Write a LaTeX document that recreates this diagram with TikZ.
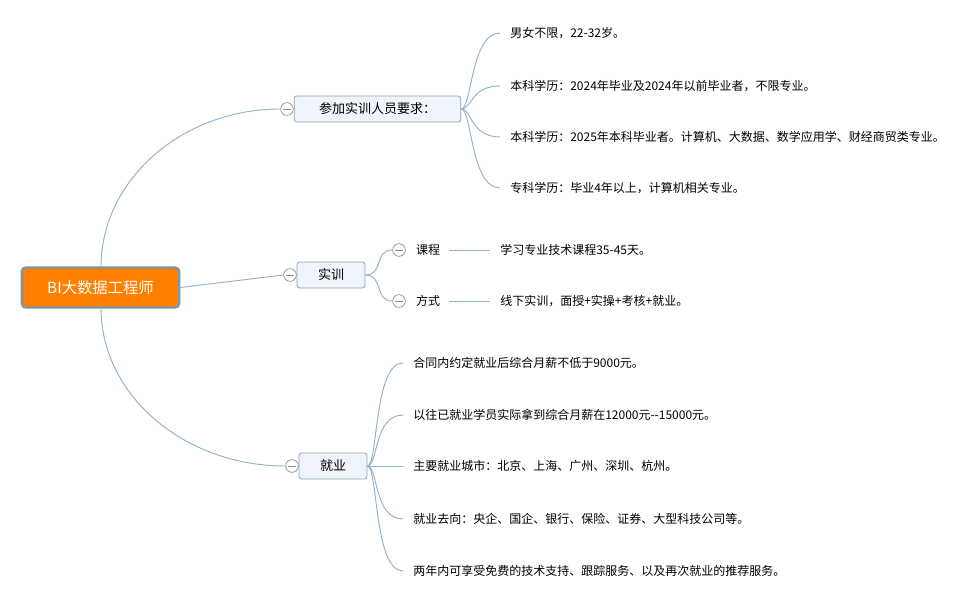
\documentclass[tikz,border=0pt]{standalone}
\usepackage{fontspec}
\setmainfont{Noto Sans CJK SC}
\definecolor{linec}{HTML}{93B1C6}
\definecolor{nodeb}{HTML}{8AA5BE}
\definecolor{nodef}{HTML}{EEF4F9}
\definecolor{rootb}{HTML}{7D93A8}
\definecolor{rootf}{HTML}{FF8000}
\definecolor{foldc}{HTML}{8C8C8C}
\begin{document}
\begin{tikzpicture}[x=0.75pt,y=-0.75pt,
  conn/.style={draw=linec, line width=0.7pt},
  topic/.style={draw=nodeb, fill=nodef, rounded corners=2pt, line width=0.6pt,
    minimum height=19.5pt, minimum width=51pt, inner sep=0pt,
    font=\fontsize{9.75}{12}\selectfont},
  rootnode/.style={draw=rootb, fill=rootf, rounded corners=3pt, line width=1.8pt,
    minimum height=30pt, minimum width=118pt, inner sep=0pt, text=white,
    font=\fontsize{11.5}{14}\selectfont},
  leaf/.style={anchor=west, inner xsep=7.5pt, inner ysep=0pt, font=\fontsize{9}{11}\selectfont},
  sub/.style={inner xsep=6.75pt, inner ysep=0pt, font=\fontsize{9}{11}\selectfont},
  fold/.style={circle, draw=foldc, fill=white, line width=0.5pt, minimum size=9.5pt, inner sep=0pt,
    path picture={\draw[foldc, line width=0.5pt] ([xshift=-2.8pt]path picture bounding box.center) -- ([xshift=2.8pt]path picture bounding box.center);}}
]
\useasboundingbox (0,0) rectangle (977,602);
\fill[white] (0,0) rectangle (977,602);

% root
\node[rootnode] (root) at (100.5,287.5) {BI大数据工程师};

% level 1
\node[topic, minimum width=125pt] (req) at (377.5,109) {参加实训人员要求：};
\node[fold] (freq) at (287,109) {};
\node[topic] (sx) at (331,275) {实训};
\node[fold] (fsx) at (290,275) {};
\node[topic] (jy) at (333,466) {就业};
\node[fold] (fjy) at (292,466) {};

\coordinate (rt) at (101,267);
\coordinate (rb) at (101,308);
\draw[conn] (rt) .. controls (101,180) and (182,109) .. (freq.west);
\draw[conn] (root.east) -- (fsx.west);
\draw[conn] (rb) .. controls (101,395) and (184,466) .. (fjy.west);

% requirements leaves
\node[leaf] (r1) at (500,33) {男女不限，22-32岁。};
\node[leaf] (r2) at (500,86) {本科学历：2024年毕业及2024年以前毕业者，不限专业。};
\node[leaf] (r3) at (500,137) {本科学历：2025年本科毕业者。计算机、大数据、数学应用学、财经商贸类专业。};
\node[leaf] (r4) at (500,188) {专科学历：毕业4年以上，计算机相关专业。};
\foreach \n in {r1,r2,r3,r4}{
  \draw[conn] (req.east) .. controls ([xshift=8]req.east) and ([xshift=-22]\n.west) .. (\n.west);
}

% training subtopics
\node[fold] (fkc) at (399,250) {};
\node[sub] (kc) at (428,250) {课程};
\node[fold] (ffs) at (399,301) {};
\node[sub] (fs) at (428,301) {方式};
\draw[conn] (sx.east) .. controls ([xshift=14]sx.east) and ([xshift=-14]fkc.west) .. (fkc.west);
\draw[conn] (sx.east) .. controls ([xshift=14]sx.east) and ([xshift=-14]ffs.west) .. (ffs.west);
\node[leaf] (kc1) at (490,250) {学习专业技术课程35-45天。};
\node[leaf] (fs1) at (490,301) {线下实训，面授+实操+考核+就业。};
\draw[conn] (kc.east) -- (kc1.west);
\draw[conn] (fs.east) -- (fs1.west);

% employment leaves
\node[leaf] (j1) at (403,363) {合同内约定就业后综合月薪不低于9000元。};
\node[leaf] (j2) at (403,415) {以往已就业学员实际拿到综合月薪在12000元{-}{-}15000元。};
\node[leaf] (j3) at (403,466) {主要就业城市：北京、上海、广州、深圳、杭州。};
\node[leaf] (j4) at (403,519) {就业去向：央企、国企、银行、保险、证券、大型科技公司等。};
\node[leaf] (j5) at (403,571) {两年内可享受免费的技术支持、跟踪服务、以及再次就业的推荐服务。};
\foreach \n in {j1,j2,j4,j5}{
  \draw[conn] (jy.east) .. controls ([xshift=8]jy.east) and ([xshift=-22]\n.west) .. (\n.west);
}
\draw[conn] (jy.east) -- (j3.west);
\end{tikzpicture}
\end{document}
